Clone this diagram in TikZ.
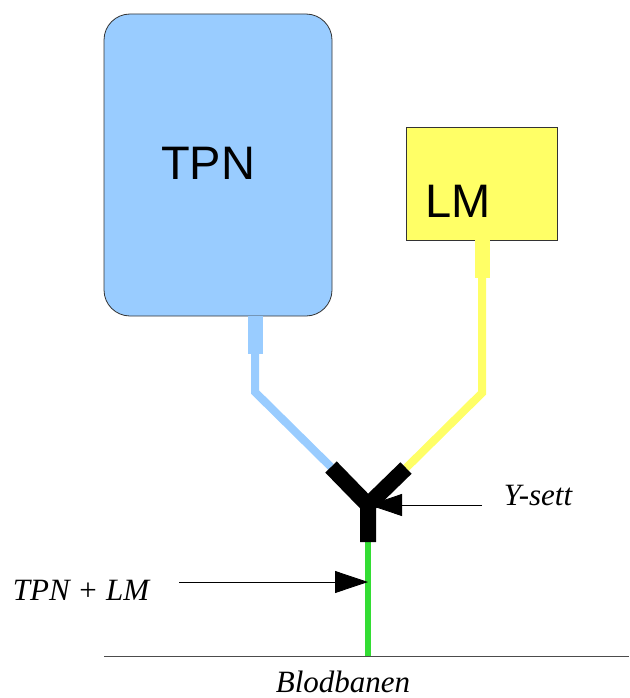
\documentclass[tikz,border=0pt]{standalone}
\usepackage{fontspec}
\setmainfont{Liberation Serif}
\setsansfont{Liberation Sans}
\usepackage{xcolor}
\usetikzlibrary{arrows.meta,positioning}

\definecolor{tpnblue}{HTML}{99CCFF}
\definecolor{lmyellow}{HTML}{FFFF66}
\definecolor{bloodgreen}{HTML}{33DD33}

\begin{document}
\begin{tikzpicture}[
  x=1pt, y=-1pt,
  pouch/.style={rectangle, draw=black!80, line width=0.8pt, inner sep=0pt},
  bagtext/.style={font=\sffamily\fontsize{47}{50}\selectfont},
  caption/.style={font=\itshape\fontsize{31}{36}\selectfont, inner sep=0pt},
  tube/.style={line width=8pt, line cap=butt, line join=miter},
  port/.style={line width=15pt, line cap=butt},
  ysett/.style={line width=16pt, black, line cap=butt, line join=miter},
  pointer/.style={line width=0.8pt, -{Triangle[length=33pt,width=22pt]}}
]
  \useasboundingbox (0,0) rectangle (629,698);

  % Bags
  \node[pouch, fill=tpnblue, rounded corners=26pt, minimum width=228pt, minimum height=302pt] (tpn) at (218,165) {};
  \node[bagtext] (tpntext) at (208,163) {TPN};
  \node[pouch, fill=lmyellow, minimum width=151pt, minimum height=113pt] (lm) at (481.5,183.5) {};
  \node[bagtext] (lmtext) at (458,201) {LM};

  % Tube points
  \coordinate (tpnport) at (255,354);
  \coordinate (tpnbend) at (255,392);
  \coordinate (lmport) at (482,278);
  \coordinate (lmbend) at (482,393);
  \coordinate (yleft) at (331,467);
  \coordinate (yright) at (406,468);
  \coordinate (yjoint) at (368,505);
  \coordinate (ystem) at (368,542);
  \coordinate (inlet) at (368,582);
  \coordinate (vein) at (368,656);

  % Bag outlets
  \draw[port, tpnblue] (tpn.south -| tpnport) -- (tpnport);
  \draw[port, lmyellow] (lm.south -| lmport) -- (lmport);

  % Tubes
  \draw[tube, tpnblue] (tpnport) -- (tpnbend) -- (yleft);
  \draw[tube, lmyellow] (lmport) -- (lmbend) -- (yright);
  \draw[line width=6pt, bloodgreen] (ystem) -- (vein);

  % Labels
  \node[caption] (ylabel) at (538,495) {Y-sett};
  \node[caption] (mixlabel) at (81,590) {TPN + LM};
  \node[caption] (bloodlabel) at (343,682) {Blodbanen};
  \coordinate (ytail) at (482,505);
  \coordinate (mixtail) at (179,582);

  \draw[pointer] (ytail) -- ([xshift=1pt]yjoint);
  \draw[pointer] (mixtail) -- (inlet);

  % Y-sett
  \draw[ysett] (yleft) -- (yjoint) -- (ystem);
  \draw[ysett] (yright) -- (yjoint);

  % Blood stream
  \draw[line width=0.8pt, black!70] (104,656) -- (629,656);
\end{tikzpicture}
\end{document}
